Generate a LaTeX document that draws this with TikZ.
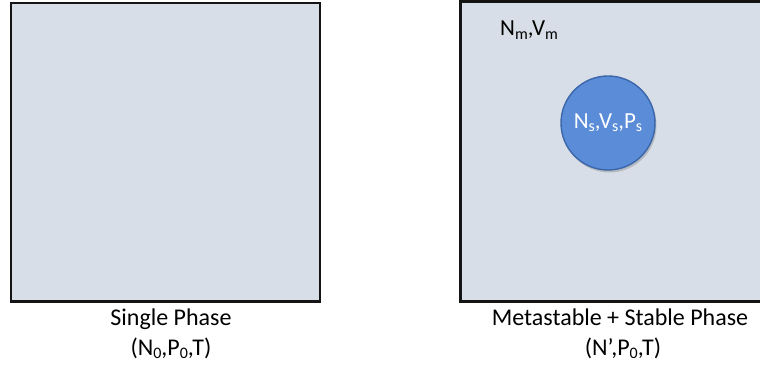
\documentclass[tikz,border=0pt]{standalone}
\usepackage{fontspec}
\setmainfont{Carlito}
\usetikzlibrary{shadows}
\definecolor{boxfill}{HTML}{D8DEE7}
\definecolor{ballfill}{HTML}{5A8CD8}
\definecolor{balledge}{HTML}{3C66AA}
\newcommand{\sbs}[1]{\raisebox{-0.3ex}{\fontsize{16}{16}\selectfont #1}}
\tikzset{
  phasebox/.style={draw=black!92, line width=2.6pt, fill=boxfill},
  lbl/.style={font=\fontsize{24}{30}\selectfont, inner sep=0pt},
  ball/.style={circle, draw=balledge, line width=1.4pt, fill=ballfill, minimum size=94pt,
    inner sep=0pt, text=white, font=\fontsize{23}{26}\selectfont,
    drop shadow={shadow xshift=1.5pt, shadow yshift=-2.5pt, opacity=0.3, fill=black!60}}
}
\begin{document}
\begin{tikzpicture}[x=1pt,y=-1pt]
\useasboundingbox (0,0) rectangle (760,371);
\clip (0,0) rectangle (760,371);
\fill[white] (0,0) rectangle (760,371);
% boxes
\draw[phasebox] (11,3) rectangle (320,301.5);
\draw[phasebox] (460.5,1.5) rectangle (775,301.5);
% labels under boxes
\node[lbl, anchor=base] (ltxt1) at (171,325) {Single Phase};
\node[lbl, anchor=base] (ltxt2) at (171,355) {(N\sbs{0},P\sbs{0},T)};
\node[lbl, anchor=base] (rtxt1) at (620,325) {Metastable + Stable Phase};
\node[lbl, anchor=base] (rtxt2) at (623,355) {(N',P\sbs{0},T)};
% metastable label
\node[lbl, anchor=base west, font=\fontsize{23}{28}\selectfont] (nm) at (500,36) {N\sbs{m},V\sbs{m}};
% stable nucleus
\node[ball] (ns) at (608,123) {N\sbs{s},V\sbs{s},P\sbs{s}};
\end{tikzpicture}
\end{document}
